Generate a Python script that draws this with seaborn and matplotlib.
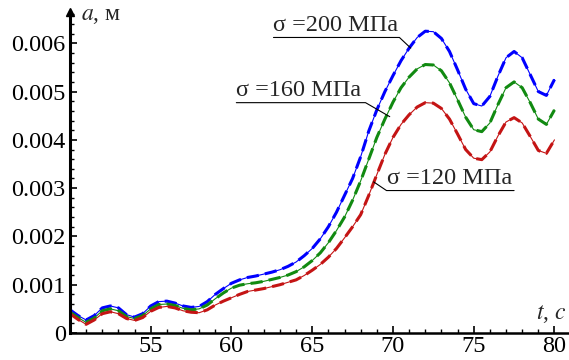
import numpy as np
import pandas as pd
import matplotlib
matplotlib.use('Agg')
import matplotlib.pyplot as plt
import seaborn as sns
from matplotlib.ticker import MultipleLocator

# time axis, t (c)
t = np.arange(50.0, 80.01, 0.5)

# a (m) for each stress level
a_200 = [0.00048, 0.00036, 0.00027, 0.00036, 0.00052, 0.00056, 0.00052, 0.00038, 0.00033, 0.00040,
         0.00056, 0.00065, 0.00066, 0.00062, 0.00056, 0.00053, 0.00055, 0.00065, 0.00080, 0.00092,
         0.00103, 0.00110, 0.00115, 0.00118, 0.00122, 0.00126, 0.00131, 0.00138, 0.00147, 0.00160,
         0.00175, 0.00195, 0.00220, 0.00250, 0.00285, 0.00320, 0.00365, 0.00418, 0.00462, 0.00500,
         0.00533, 0.00564, 0.00590, 0.00612, 0.00625, 0.00624, 0.00610, 0.00583, 0.00545, 0.00505,
         0.00475, 0.00470, 0.00490, 0.00532, 0.00570, 0.00583, 0.00570, 0.00535, 0.00500, 0.00492,
         0.00525]
a_160 = [0.00043, 0.00032, 0.00022, 0.00031, 0.00046, 0.00050, 0.00046, 0.00034, 0.00030, 0.00036,
         0.00050, 0.00059, 0.00060, 0.00057, 0.00051, 0.00048, 0.00050, 0.00058, 0.00071, 0.00083,
         0.00093, 0.00099, 0.00102, 0.00104, 0.00107, 0.00111, 0.00115, 0.00120, 0.00127, 0.00137,
         0.00150, 0.00166, 0.00187, 0.00212, 0.00240, 0.00275, 0.00315, 0.00360, 0.00405, 0.00443,
         0.00478, 0.00508, 0.00530, 0.00547, 0.00556, 0.00555, 0.00543, 0.00518, 0.00483, 0.00447,
         0.00421, 0.00417, 0.00435, 0.00473, 0.00508, 0.00520, 0.00508, 0.00477, 0.00443, 0.00432,
         0.00462]
a_120 = [0.00040, 0.00028, 0.00018, 0.00027, 0.00040, 0.00044, 0.00040, 0.00030, 0.00026, 0.00032,
         0.00045, 0.00053, 0.00055, 0.00052, 0.00046, 0.00043, 0.00042, 0.00048, 0.00058, 0.00066,
         0.00073, 0.00080, 0.00086, 0.00089, 0.00092, 0.00096, 0.00100, 0.00105, 0.00110, 0.00119,
         0.00130, 0.00142, 0.00157, 0.00175, 0.00197, 0.00220, 0.00245, 0.00285, 0.00328, 0.00370,
         0.00405, 0.00432, 0.00452, 0.00468, 0.00477, 0.00476, 0.00465, 0.00443, 0.00412, 0.00380,
         0.00362, 0.00359, 0.00375, 0.00408, 0.00437, 0.00446, 0.00435, 0.00407, 0.00378, 0.00372,
         0.00400]

series = {'σ =200 МПа': a_200, 'σ =160 МПа': a_160, 'σ =120 МПа': a_120}
colors = {'σ =200 МПа': '#0000ff', 'σ =160 МПа': '#118a11', 'σ =120 МПа': '#c41414'}

# label: (text x, text y, underline end x, leader end x, leader end y)
labels = {'σ =200 МПа': (62.6, 0.00612, 70.4, 71.1, 0.00590),
          'σ =160 МПа': (60.3, 0.00477, 68.3, 69.8, 0.00448),
          'σ =120 МПа': (69.6, 0.00295, 77.5, 68.8, 0.00313)}

df = pd.concat([pd.DataFrame({'t': t, 'a': v, 'sigma': k}) for k, v in series.items()])

sns.set_style('white')
plt.rcParams['font.family'] = ['Liberation Serif', 'DejaVu Serif']
plt.rcParams['mathtext.fontset'] = 'stix'

fig = plt.figure(figsize=(5.69, 3.6), dpi=100)
ax = fig.add_axes([0.123, 0.075, 0.877, 0.892])

# thin solid line under a thick dashed one, like the original
sns.lineplot(data=df, x='t', y='a', hue='sigma', palette=colors, lw=0.8,
             legend=False, ax=ax)
sns.lineplot(data=df, x='t', y='a', hue='sigma', palette=colors, lw=2.2,
             dashes=False, legend=False, ax=ax, linestyle=(0, (4, 2)))

ax.set_xlim(50, 80.9)
ax.set_ylim(0, 0.00665)
for s in ['top', 'right']:
    ax.spines[s].set_visible(False)
ax.spines['left'].set_linewidth(2.2)
ax.spines['bottom'].set_linewidth(1.8)
ax.spines['left'].set_color('black')
ax.spines['bottom'].set_color('black')

ax.set_xticks([55, 60, 65, 70, 75, 80])
ax.xaxis.set_minor_locator(MultipleLocator(1))
ax.set_yticks([0, 0.001, 0.002, 0.003, 0.004, 0.005, 0.006])
ax.set_yticklabels(['0', '0.001', '0.002', '0.003', '0.004', '0.005', '0.006'])
ax.yaxis.set_minor_locator(MultipleLocator(0.0002))
ax.tick_params(which='both', direction='in', colors='black', labelsize=17.5)
ax.tick_params(which='major', length=5, width=1.2)
ax.tick_params(which='minor', length=3, width=1.0)
ax.tick_params(axis='y', which='both', left=True, pad=3)
ax.tick_params(axis='x', which='both', bottom=True, pad=2)
ax.set_xlabel('')
ax.set_ylabel('')

# arrow on top of the y axis
ax.plot(0, 1.0, '^k', transform=ax.transAxes, clip_on=False, markersize=6)

fig.text(81 / 569, 1 - 15 / 360, r'$a$, м', fontsize=17, va='center', ha='left')
fig.text(566 / 569, 1 - 314 / 360, r'$t$, $c$', fontsize=17, va='center', ha='right')

for name, (x0, y0, x1, x2, y2) in labels.items():
    ax.text(x0, y0 + 0.00003, name, fontsize=17.5, ha='left', va='bottom')
    if x2 > x1:
        ax.plot([x0, x1, x2], [y0, y0, y2], color='black', lw=0.8)
    else:
        ax.plot([x2, x0, x1], [y2, y0, y0], color='black', lw=0.8)

fig.savefig('out.png', dpi=100)
